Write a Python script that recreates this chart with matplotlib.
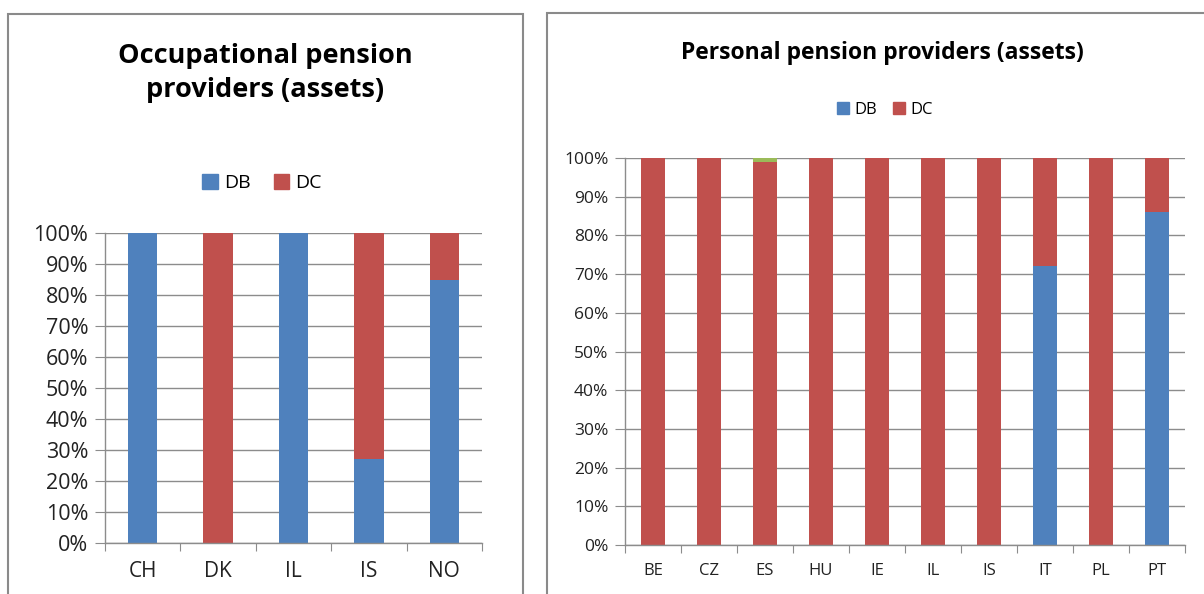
import numpy as np
import matplotlib.pyplot as plt
from matplotlib.patches import Rectangle, Patch
from matplotlib.ticker import PercentFormatter

plt.rcParams['font.family'] = ['Open Sans', 'DejaVu Sans']

BLUE, RED, GREEN = "#4F81BD", "#C0504D", "#9BBB59"
GRID = "#8C8C8C"

# occupational pension providers
occ_countries = ["CH", "DK", "IL", "IS", "NO"]
occ_db = [100, 0, 100, 27, 85]
occ_dc = [0, 100, 0, 73, 15]

# personal pension providers
pers_countries = ["BE", "CZ", "ES", "HU", "IE", "IL", "IS", "IT", "PL", "PT"]
pers_db = [0, 0, 0, 0, 0, 0, 0, 72, 0, 86]
pers_dc = [100, 100, 99, 100, 100, 100, 100, 28, 100, 14]
pers_other = [0, 0, 1, 0, 0, 0, 0, 0, 0, 0]

fig = plt.figure(figsize=(12.04, 5.94), dpi=100)

# panel borders
fig.add_artist(Rectangle((8 / 1204, -0.01), 515 / 1204, 1 - 14 / 594 + 0.01,
                         transform=fig.transFigure, fill=False, ec="#8a8a8a", lw=1.5))
fig.add_artist(Rectangle((547 / 1204, -0.01), 0.6, 1 - 13 / 594 + 0.01,
                         transform=fig.transFigure, fill=False, ec="#8a8a8a", lw=1.5))


def style_axis(ax, labels, fs_tick, fs_cat):
    n = len(labels)
    x = np.arange(n)
    ax.set_xlim(-0.5, n - 0.5)
    ax.set_ylim(0, 100)
    ax.yaxis.set_major_formatter(PercentFormatter(decimals=0))
    ax.set_yticks(np.arange(0, 101, 10))
    ax.yaxis.grid(True, color=GRID, lw=1)
    ax.set_axisbelow(True)
    for s in ["top", "right"]:
        ax.spines[s].set_visible(False)
    for s in ["left", "bottom"]:
        ax.spines[s].set_color(GRID)
        ax.spines[s].set_linewidth(1)
    ax.set_xticks(np.arange(-0.5, n, 1))
    ax.set_xticklabels([])
    ax.set_xticks(x, minor=True)
    ax.set_xticklabels(labels, minor=True, fontsize=fs_cat, color="#222222")
    ax.tick_params(axis="x", which="major", length=6, color=GRID)
    ax.tick_params(axis="x", which="minor", length=0, pad=13)
    ax.tick_params(axis="y", length=7, color=GRID, labelsize=fs_tick, labelcolor="#222222", pad=5)
    return x


# left panel
ax1 = fig.add_axes([105 / 1204, 1 - 543 / 594, 377 / 1204, 310 / 594])
x = style_axis(ax1, occ_countries, 15.5, 15)
ax1.bar(x, occ_db, 0.39, color=BLUE)
ax1.bar(x, occ_dc, 0.39, bottom=occ_db, color=RED)
fig.text(265 / 1204, 1 - 73 / 594, "Occupational pension\nproviders (assets)",
         ha="center", va="center", fontsize=19.5, fontweight="bold", linespacing=1.4)
fig.legend(handles=[Patch(color=BLUE, label="DB"), Patch(color=RED, label="DC")],
           loc="center", bbox_to_anchor=(262 / 1204, 1 - 183 / 594), ncol=2, frameon=False,
           fontsize=14, handlelength=0.8, handleheight=0.8, handletextpad=0.3, columnspacing=1.2)

# right panel
ax2 = fig.add_axes([625 / 1204, 1 - 545 / 594, 560 / 1204, 387 / 594])
x = style_axis(ax2, pers_countries, 12.5, 12)
bottom2 = np.array(pers_db) + np.array(pers_dc)
ax2.bar(x, pers_db, 0.43, color=BLUE)
ax2.bar(x, pers_dc, 0.43, bottom=pers_db, color=RED)
ax2.bar(x, pers_other, 0.43, bottom=bottom2, color=GREEN)
fig.text(882 / 1204, 1 - 53 / 594, "Personal pension providers (assets)",
         ha="center", va="center", fontsize=16.5, fontweight="bold")
fig.legend(handles=[Patch(color=BLUE, label="DB"), Patch(color=RED, label="DC")],
           loc="center", bbox_to_anchor=(885 / 1204, 1 - 110 / 594), ncol=2, frameon=False,
           fontsize=12, handlelength=0.7, handleheight=0.7, handletextpad=0.3, columnspacing=1.0)

fig.savefig("out.png", dpi=100)
